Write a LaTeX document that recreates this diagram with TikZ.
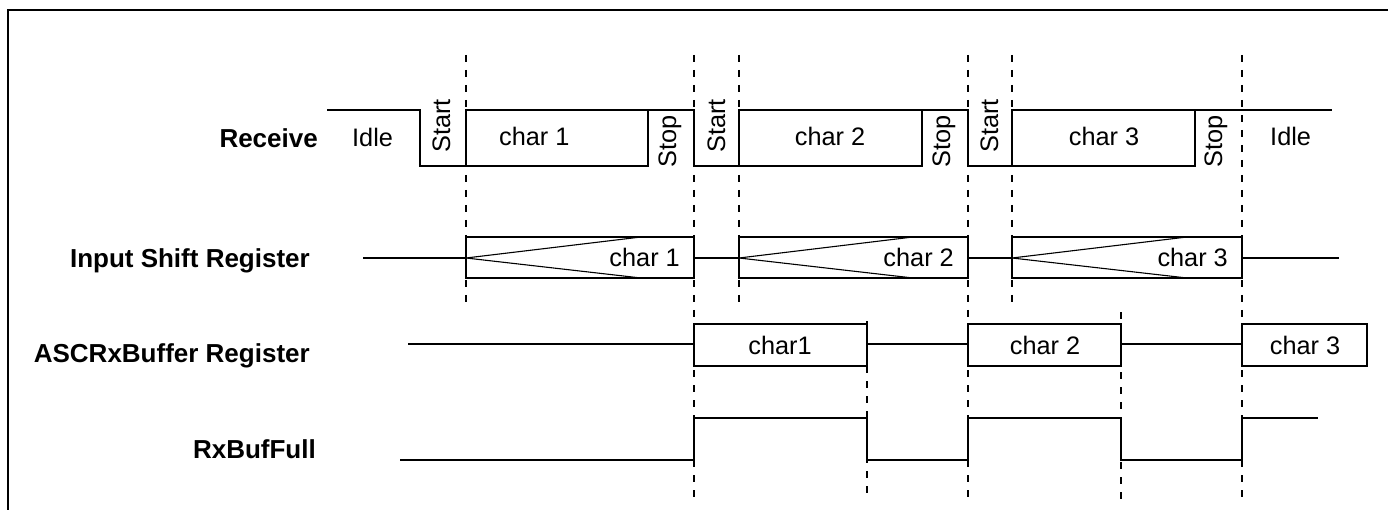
\documentclass[tikz,border=0pt]{standalone}
\usepackage{fontspec}
\setmainfont{Liberation Sans}
\begin{document}
\begin{tikzpicture}[x=1pt,y=-1pt,
  wave/.style={line width=1.8pt, line join=miter},
  thinwave/.style={line width=1.1pt},
  guide/.style={line width=1.8pt, dash pattern=on 7pt off 8pt},
  lbl/.style={font=\fontsize{26}{30}\selectfont\bfseries, inner sep=0pt, anchor=base east},
  txt/.style={font=\fontsize{25.3}{30}\selectfont, inner sep=0pt},
]
\useasboundingbox (0,0) rectangle (1388,510);
% frame
\draw[line width=2pt] (8,510) -- (8,10) -- (1388,10);

% guides
\draw[guide] (466,55) -- (466,307);
\draw[guide] (694,55) -- (694,500);
\draw[guide] (739,55) -- (739,303);
\draw[guide] (968,55) -- (968,500);
\draw[guide] (1012,55) -- (1012,303);
\draw[guide] (1242,55) -- (1242,498);
\draw[guide] (867,321) -- (867,500);
\draw[guide] (1121,312) -- (1121,500);

% Receive
\draw[wave] (327,110) -- (420,110) -- (420,166) -- (466,166) -- (466,110) -- (694,110) -- (694,166) -- (739,166) -- (739,110) -- (968,110) -- (968,166) -- (1012,166) -- (1012,110) -- (1332,110);
\draw[wave] (466,166) -- (648,166) -- (648,110);
\draw[wave] (739,166) -- (922,166) -- (922,110);
\draw[wave] (1012,166) -- (1195,166) -- (1195,110);

% Input shift register
\draw[wave] (363,258) -- (466,258);
\draw[wave] (466,237) rectangle (694,278);
\draw[wave] (694,258) -- (739,258);
\draw[wave] (739,237) rectangle (968,278);
\draw[wave] (968,258) -- (1012,258);
\draw[wave] (1012,237) rectangle (1242,278);
\draw[wave] (1242,258) -- (1339,258);
\draw[thinwave] (641,237) -- (466,258) -- (641,278);
\draw[thinwave] (913,237) -- (739,258) -- (913,278);
\draw[thinwave] (1187,237) -- (1012,258) -- (1187,278);

% ASCRxBuffer
\draw[wave] (408,344) -- (694,344);
\draw[wave] (694,324) rectangle (867,366);
\draw[wave] (867,344) -- (968,344);
\draw[wave] (968,324) rectangle (1121,366);
\draw[wave] (1121,344) -- (1242,344);
\draw[wave] (1242,324) rectangle (1367,366);

% RxBufFull
\draw[wave] (400,460) -- (694,460) -- (694,418);
\draw[thinwave] (694,418) -- (867,418) -- (867,460);
\draw[wave] (867,460) -- (968,460) -- (968,418) -- (1121,418) -- (1121,460) -- (1242,460) -- (1242,418) -- (1318,418);

% labels
\node[lbl] (lrecv) at (318,148) {Receive};
\node[lbl] (lisr) at (310,268) {Input Shift Register};
\node[lbl] (lasc) at (310,362) {ASCRxBuffer Register};
\node[lbl] (lfull) at (316,458) {RxBufFull};

% receive texts
\node[txt, anchor=base west] (idle1) at (352,147) {Idle};
\node[txt, anchor=base west] (rc1) at (499,146) {char 1};
\node[txt, anchor=base] (rc2) at (830,146) {char 2};
\node[txt, anchor=base] (rc3) at (1104,146) {char 3};
\node[txt, anchor=base west] (idle2) at (1270,146) {Idle};
\node[txt, rotate=90, anchor=base west] (st1) at (450,153) {Start};
\node[txt, rotate=90, anchor=base west] (st2) at (725,153) {Start};
\node[txt, rotate=90, anchor=base west] (st3) at (998,153) {Start};
\node[txt, rotate=90, anchor=base west] (sp1) at (676,168) {Stop};
\node[txt, rotate=90, anchor=base west] (sp2) at (950,168) {Stop};
\node[txt, rotate=90, anchor=base west] (sp3) at (1222,168) {Stop};

% shift register texts
\node[txt, anchor=base east] (ic1) at (680,267) {char 1};
\node[txt, anchor=base east] (ic2) at (954,267) {char 2};
\node[txt, anchor=base east] (ic3) at (1228,267) {char 3};

% buffer texts
\node[txt, anchor=base] (bc1) at (780,354) {char1};
\node[txt, anchor=base] (bc2) at (1045,354) {char 2};
\node[txt, anchor=base] (bc3) at (1305,354) {char 3};
\end{tikzpicture}
\end{document}
